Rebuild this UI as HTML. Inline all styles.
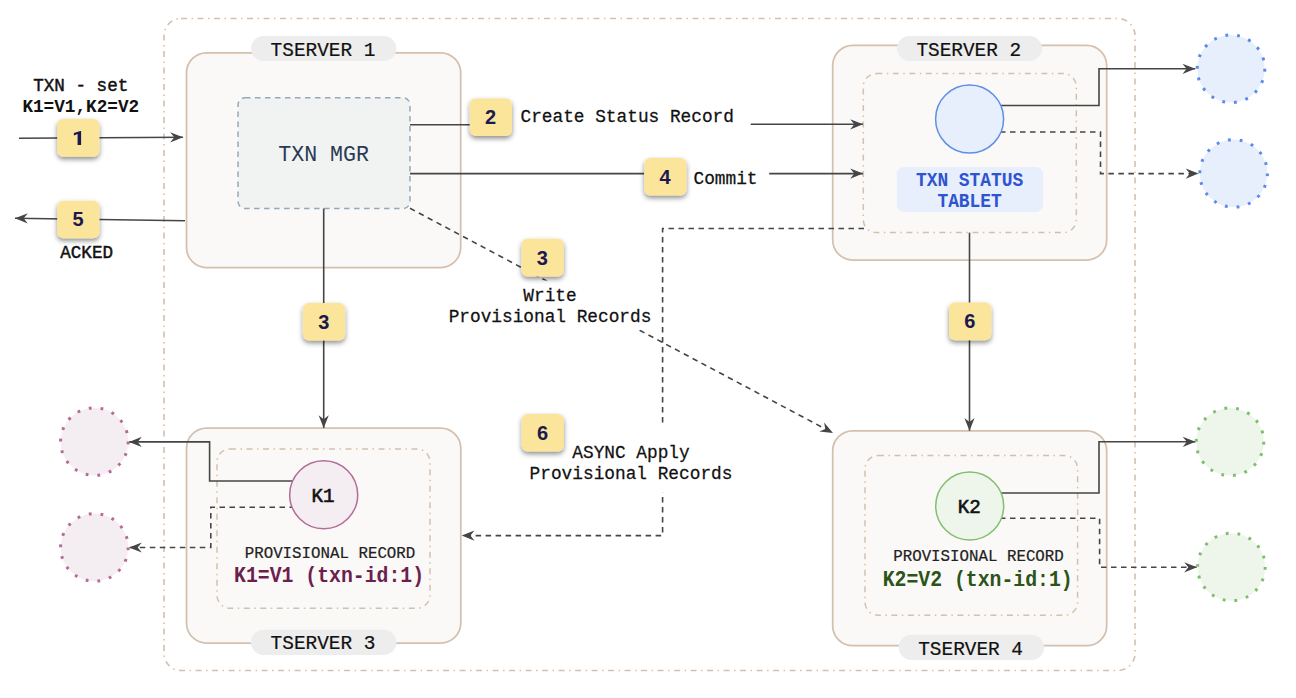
<!DOCTYPE html><html><head><meta charset="utf-8"><style>
html,body{margin:0;padding:0;background:#fff;}
svg{display:block;}
text{font-family:"Liberation Mono",monospace;}
.num{font-family:"Liberation Sans",sans-serif;font-size:20px;font-weight:bold;fill:#1d1850;text-anchor:middle;}
.lbl{font-size:17.8px;fill:#111;stroke:#111;stroke-width:0.25px;}
.lblm{font-size:17.6px;fill:#111;stroke:#111;stroke-width:0.45px;}
.lblb{font-size:17.7px;font-weight:bold;fill:#111;}
.ts{font-size:19.4px;fill:#111;stroke:#111;stroke-width:0.2px;}
.prov{font-size:15.8px;fill:#222;stroke:#222;stroke-width:0.2px;}
.kv{font-size:19.8px;font-weight:bold;}
.k{font-size:19.2px;fill:#111;stroke:#111;stroke-width:0.6px;}
</style></head><body>
<svg width="1296" height="698" viewBox="0 0 1296 698">
<defs><filter id="sh" x="-40%" y="-40%" width="180%" height="190%"><feDropShadow dx="0" dy="2.5" stdDeviation="2.6" flood-color="#000" flood-opacity="0.45"/></filter></defs>
<rect width="1296" height="698" fill="#fff"/>
<rect x="164" y="18.5" width="971" height="652" rx="17" fill="none" stroke="#d4c0ae" stroke-width="1.6" stroke-dasharray="6 4.5 1.5 4.5"/>
<rect x="186.5" y="52.8" width="274.2" height="214.7" rx="20" fill="#faf9f7" stroke="#d4c0ae" stroke-width="1.75"/>
<rect x="832.7" y="45.4" width="274" height="214.6" rx="20" fill="#faf9f7" stroke="#d4c0ae" stroke-width="1.75"/>
<rect x="186.5" y="428.2" width="274.3" height="214.8" rx="20" fill="#faf9f7" stroke="#d4c0ae" stroke-width="1.75"/>
<rect x="832.7" y="430.8" width="274" height="214.9" rx="20" fill="#faf9f7" stroke="#d4c0ae" stroke-width="1.75"/>
<rect x="863.3" y="73.6" width="213" height="159" rx="13" fill="none" stroke="#d4c0ae" stroke-width="1.5" stroke-dasharray="6 4.5 1.5 4.5"/>
<rect x="217" y="449" width="213" height="159.2" rx="13" fill="none" stroke="#d4c0ae" stroke-width="1.5" stroke-dasharray="6 4.5 1.5 4.5"/>
<rect x="865" y="455.6" width="212.6" height="159.6" rx="13" fill="none" stroke="#d4c0ae" stroke-width="1.5" stroke-dasharray="6 4.5 1.5 4.5"/>
<rect x="238" y="97.8" width="172" height="110.7" rx="7" fill="#f1f3f3" stroke="#95a9bb" stroke-width="1.5" stroke-dasharray="5.5 4.5"/>
<text transform="translate(323.6,161.3) scale(1,1.06)" class="" text-anchor="middle" style="font-size:21.6px;fill:#2a3a55">TXN MGR</text>
<path d="M19.00,138.20 L183.00,137.20" fill="none" stroke="#454545" stroke-width="1.6"/><path d="M183.00,137.20 L170.23,142.38 L174.30,137.25 L170.17,132.18 Z" fill="#454545"/>
<path d="M185.00,220.80 L15.00,218.20" fill="none" stroke="#454545" stroke-width="1.6"/><path d="M15.00,218.20 L27.88,213.30 L23.70,218.33 L27.72,223.50 Z" fill="#454545"/>
<path d="M410.00,124.70 L470.00,124.70" fill="none" stroke="#454545" stroke-width="1.6"/>
<path d="M750.70,124.30 L863.00,124.30" fill="none" stroke="#454545" stroke-width="1.6"/><path d="M863.00,124.30 L850.20,129.40 L854.30,124.30 L850.20,119.20 Z" fill="#454545"/>
<path d="M410.00,173.60 L644.00,173.60" fill="none" stroke="#454545" stroke-width="1.6"/>
<path d="M769.20,173.60 L863.00,173.60" fill="none" stroke="#454545" stroke-width="1.6"/><path d="M863.00,173.60 L850.20,178.70 L854.30,173.60 L850.20,168.50 Z" fill="#454545"/>
<path d="M323.70,208.50 L323.70,428.00" fill="none" stroke="#454545" stroke-width="1.6"/><path d="M323.70,428.00 L318.60,415.20 L323.70,419.30 L328.80,415.20 Z" fill="#454545"/>
<path d="M410.00,208.30 L833.00,433.00" fill="none" stroke="#454545" stroke-width="1.6" stroke-dasharray="5.5 4.5"/><path d="M833.00,433.00 L819.30,431.50 L825.32,428.92 L824.09,422.49 Z" fill="#454545"/>
<path d="M969.50,232.60 L969.50,430.80" fill="none" stroke="#454545" stroke-width="1.6"/><path d="M969.50,430.80 L964.40,418.00 L969.50,422.10 L974.60,418.00 Z" fill="#454545"/>
<path d="M864.00,228.50 L662.60,228.50 L662.60,535.60 L461.70,535.60" fill="none" stroke="#454545" stroke-width="1.6" stroke-dasharray="5.5 4.5"/><path d="M461.70,535.60 L474.50,530.50 L470.40,535.60 L474.50,540.70 Z" fill="#454545"/>
<path d="M1000.00,105.50 L1099.00,105.50 L1099.00,68.80 L1195.30,68.80" fill="none" stroke="#454545" stroke-width="1.6"/><path d="M1195.30,68.80 L1182.50,73.90 L1186.60,68.80 L1182.50,63.70 Z" fill="#454545"/>
<path d="M1000.00,132.00 L1100.50,132.00 L1100.50,173.60 L1198.50,173.60" fill="none" stroke="#454545" stroke-width="1.6" stroke-dasharray="5.5 4.5"/><path d="M1198.50,173.60 L1185.70,178.70 L1189.80,173.60 L1185.70,168.50 Z" fill="#454545"/>
<path d="M295.00,481.00 L209.60,481.00 L209.60,441.90 L129.00,441.90" fill="none" stroke="#454545" stroke-width="1.6"/><path d="M129.00,441.90 L141.80,436.80 L137.70,441.90 L141.80,447.00 Z" fill="#454545"/>
<path d="M295.00,507.20 L210.80,507.20 L210.80,547.50 L129.00,547.50" fill="none" stroke="#454545" stroke-width="1.6" stroke-dasharray="5.5 4.5"/><path d="M129.00,547.50 L141.80,542.40 L137.70,547.50 L141.80,552.60 Z" fill="#454545"/>
<path d="M1000.00,493.00 L1099.00,493.00 L1099.00,441.80 L1195.50,441.80" fill="none" stroke="#454545" stroke-width="1.6"/><path d="M1195.50,441.80 L1182.70,446.90 L1186.80,441.80 L1182.70,436.70 Z" fill="#454545"/>
<path d="M1000.00,518.30 L1099.60,518.30 L1099.60,567.30 L1197.00,567.30" fill="none" stroke="#454545" stroke-width="1.6" stroke-dasharray="5.5 4.5"/><path d="M1197.00,567.30 L1184.20,572.40 L1188.30,567.30 L1184.20,562.20 Z" fill="#454545"/>
<rect x="446" y="280.5" width="210" height="49.2" fill="#fff"/>
<rect x="527" y="426" width="208" height="66.7" fill="#fff"/>
<rect x="251" y="36" width="145.4" height="25" rx="12.5" fill="#ededed"/>
<text transform="translate(323.0,55.9) scale(1,1.08)" class="ts" text-anchor="middle">TSERVER 1</text>
<rect x="897" y="36" width="145" height="25" rx="12.5" fill="#ededed"/>
<text transform="translate(968.8,55.8) scale(1,1.08)" class="ts" text-anchor="middle">TSERVER 2</text>
<rect x="251" y="629.8" width="145.4" height="25.2" rx="12.5" fill="#ededed"/>
<text transform="translate(323.0,648.8) scale(1,1.08)" class="ts" text-anchor="middle">TSERVER 3</text>
<rect x="898.7" y="634.8" width="145.3" height="25.2" rx="12.5" fill="#ededed"/>
<text transform="translate(970.6,655) scale(1,1.08)" class="ts" text-anchor="middle">TSERVER 4</text>
<circle cx="969.6" cy="119.1" r="34" fill="#e8effc" stroke="#5f8ee6" stroke-width="1.5"/>
<circle cx="323.7" cy="494.7" r="34" fill="#f4edf1" stroke="#b46c98" stroke-width="1.5"/>
<circle cx="969.7" cy="506" r="34" fill="#eef5eb" stroke="#82bf6e" stroke-width="1.5"/>
<circle cx="1231" cy="68.8" r="33.8" fill="#e8effc"/><circle cx="1231" cy="68.8" r="33.8" fill="none" stroke="#5b8be8" stroke-width="3" stroke-dasharray="2.8 8.998"/>
<circle cx="1233.6" cy="173.4" r="33.8" fill="#e8effc"/><circle cx="1233.6" cy="173.4" r="33.8" fill="none" stroke="#5b8be8" stroke-width="3" stroke-dasharray="2.8 8.998"/>
<circle cx="94.4" cy="441.6" r="33.8" fill="#f4edf1"/><circle cx="94.4" cy="441.6" r="33.8" fill="none" stroke="#b56a9a" stroke-width="3" stroke-dasharray="2.8 8.998"/>
<circle cx="94.4" cy="547.4" r="33.8" fill="#f4edf1"/><circle cx="94.4" cy="547.4" r="33.8" fill="none" stroke="#b56a9a" stroke-width="3" stroke-dasharray="2.8 8.998"/>
<circle cx="1230" cy="441.8" r="33.8" fill="#eef5ea"/><circle cx="1230" cy="441.8" r="33.8" fill="none" stroke="#7dc06b" stroke-width="3" stroke-dasharray="2.8 8.998"/>
<circle cx="1231.4" cy="567" r="33.8" fill="#eef5ea"/><circle cx="1231.4" cy="567" r="33.8" fill="none" stroke="#7dc06b" stroke-width="3" stroke-dasharray="2.8 8.998"/>
<rect x="896.8" y="167.1" width="146.3" height="44.8" rx="7" fill="#e7eefc"/>
<text transform="translate(969.6,185.9) scale(1,1.1)" class="" text-anchor="middle" style="font-size:17.9px;font-weight:bold;fill:#2f54cf">TXN STATUS</text>
<text transform="translate(969.6,207.2) scale(1,1.1)" class="" text-anchor="middle" style="font-size:17.9px;font-weight:bold;fill:#2f54cf">TABLET</text>
<text transform="translate(323,501.9) scale(1,1.05)" class="k" text-anchor="middle">K1</text>
<text transform="translate(969.3,512.7) scale(1,1.05)" class="k" text-anchor="middle">K2</text>
<text transform="translate(330,558.2) scale(1,1.08)" class="prov" text-anchor="middle">PROVISIONAL RECORD</text>
<text transform="translate(329.1,582) scale(1,1.08)" class="kv" text-anchor="middle" fill="#6c1f4e">K1=V1 (txn-id:1)</text>
<text transform="translate(978.5,561.2) scale(1,1.08)" class="prov" text-anchor="middle">PROVISIONAL RECORD</text>
<text transform="translate(977.7,585.6) scale(1,1.08)" class="kv" text-anchor="middle" fill="#2c5418">K2=V2 (txn-id:1)</text>
<text transform="translate(80.75,90.8) scale(1,1.03)" class="lblm" text-anchor="middle">TXN - set</text>
<text transform="translate(80.75,111.8) scale(1,1.03)" class="lblb" text-anchor="middle">K1=V1,K2=V2</text>
<text transform="translate(86.6,257.7) scale(1,1.07)" class="lblm" text-anchor="middle">ACKED</text>
<text transform="translate(520.5,122) scale(1,1.04)" class="lbl" text-anchor="start">Create Status Record</text>
<text transform="translate(693.5,183.6) scale(1,1.03)" class="lbl" text-anchor="start">Commit</text>
<text transform="translate(550,301.2) scale(1,1.02)" class="lbl" text-anchor="middle">Write</text>
<text transform="translate(550,322) scale(1,1.03)" class="lbl" text-anchor="middle">Provisional Records</text>
<text transform="translate(631,457.8) scale(1,1.03)" class="lbl" text-anchor="middle">ASYNC Apply</text>
<text transform="translate(631,478.6) scale(1,1.02)" class="lbl" text-anchor="middle">Provisional Records</text>
<rect x="57.2" y="119.1" width="42.2" height="37.6" rx="6" fill="#fae59b" filter="url(#sh)"/><path d="M77.60,145.00 L81.10,145.00 L81.10,131.00 L80.40,131.00 L73.90,133.00 L73.90,135.50 L77.60,134.10 Z" fill="#1d1850"/>
<rect x="57.2" y="200.7" width="42.2" height="37.6" rx="6" fill="#fae59b" filter="url(#sh)"/><text x="78.0" y="226.4" class="num">5</text>
<rect x="469.8" y="98.5" width="42.2" height="37.6" rx="6" fill="#fae59b" filter="url(#sh)"/><text x="490.6" y="124.2" class="num">2</text>
<rect x="644.3" y="158" width="42.2" height="37.6" rx="6" fill="#fae59b" filter="url(#sh)"/><text x="665.1" y="183.7" class="num">4</text>
<rect x="521.6" y="238.8" width="42.2" height="37.6" rx="6" fill="#fae59b" filter="url(#sh)"/><text x="542.4" y="264.5" class="num">3</text>
<rect x="302.9" y="302.9" width="42.2" height="37.6" rx="6" fill="#fae59b" filter="url(#sh)"/><text x="323.7" y="328.6" class="num">3</text>
<rect x="949" y="302.6" width="42.2" height="37.6" rx="6" fill="#fae59b" filter="url(#sh)"/><text x="969.8" y="328.3" class="num">6</text>
<rect x="521.7" y="414" width="42.2" height="37.6" rx="6" fill="#fae59b" filter="url(#sh)"/><text x="542.5" y="439.7" class="num">6</text>
</svg></body></html>
